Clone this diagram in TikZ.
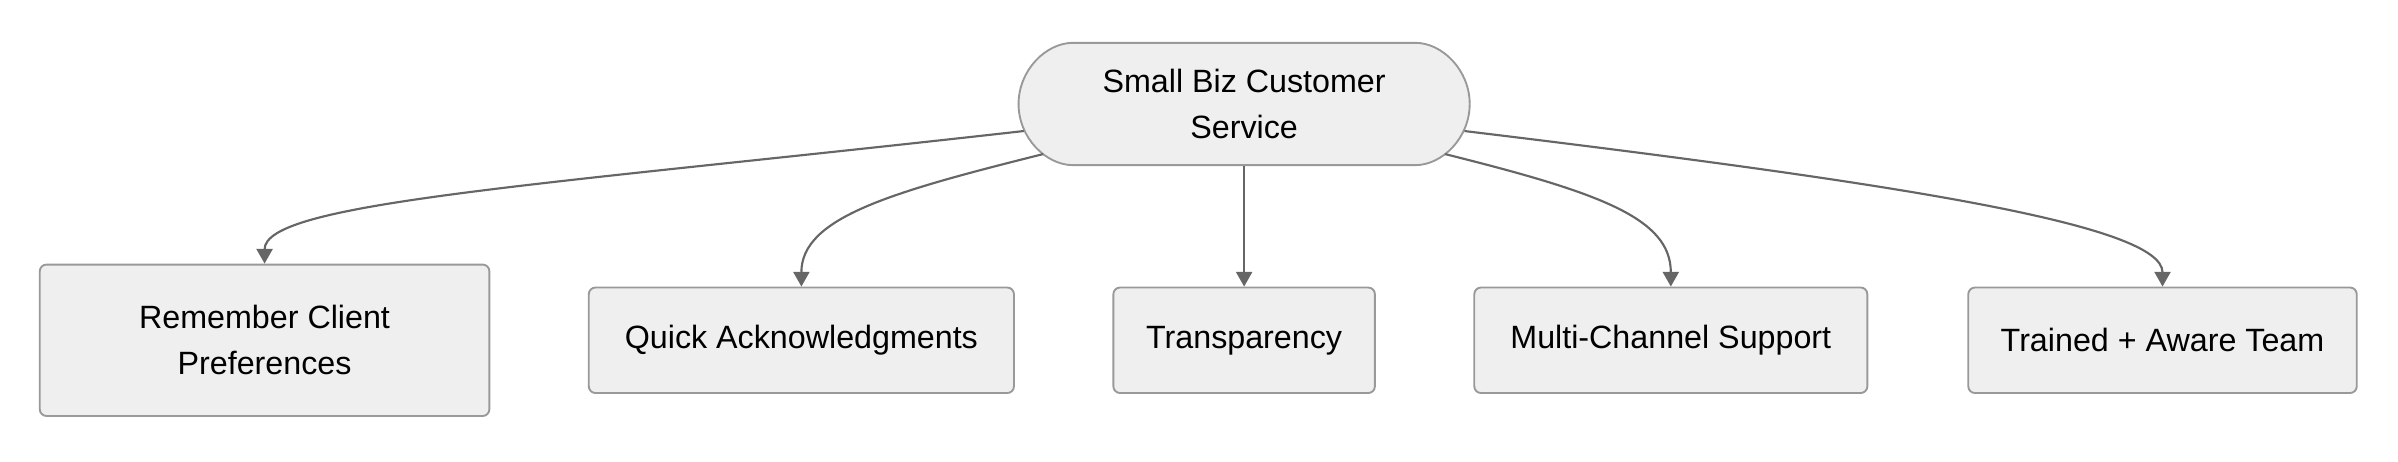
\documentclass[tikz,border=0pt]{standalone}
\usepackage{fontspec}
\setmainfont{Liberation Sans}
\usetikzlibrary{shapes.misc,arrows.meta}
\definecolor{boxfill}{HTML}{EFEFEF}
\definecolor{boxline}{HTML}{999999}
\definecolor{arr}{HTML}{666666}
\begin{document}
\begin{tikzpicture}[x=1cm,y=1cm,
  box/.style={draw=boxline,fill=boxfill,rounded corners=2.5pt,line width=0.7pt,align=center,inner sep=0pt,
    font=\fontsize{12}{17}\selectfont,text=black},
  con/.style={draw=arr,line width=0.8pt,-{Triangle[length=5.5pt,width=6pt]}}]
\useasboundingbox (0,0) rectangle (31.36,6.04);
\node[box,rounded rectangle,minimum width=5.9cm,minimum height=1.6cm] (top) at (16.27,4.68) {Small Biz Customer\\Service};
\node[box,minimum width=5.88cm,minimum height=1.98cm] (rem) at (3.46,1.59) {Remember Client\\Preferences};
\node[box,minimum width=5.56cm,minimum height=1.38cm] (qa) at (10.48,1.59) {Quick Acknowledgments};
\node[box,minimum width=3.42cm,minimum height=1.38cm] (tr) at (16.27,1.59) {Transparency};
\node[box,minimum width=5.14cm,minimum height=1.38cm] (mc) at (21.85,1.59) {Multi-Channel Support};
\node[box,minimum width=5.08cm,minimum height=1.38cm] (tt) at (28.28,1.59) {Trained + Aware Team};
\draw[con] (top.187) .. controls +(-6.4,-0.72) and +(0,0.8) .. (rem.north);
\draw[con] (top.194) .. controls +(-2,-0.5) and +(0,0.9) .. (qa.north);
\draw[con] (top.south) -- (tr.north);
\draw[con] (top.346) .. controls +(2,-0.5) and +(0,0.9) .. (mc.north);
\draw[con] (top.353) .. controls +(5.8,-0.7) and +(0,0.8) .. (tt.north);
\end{tikzpicture}
\end{document}
